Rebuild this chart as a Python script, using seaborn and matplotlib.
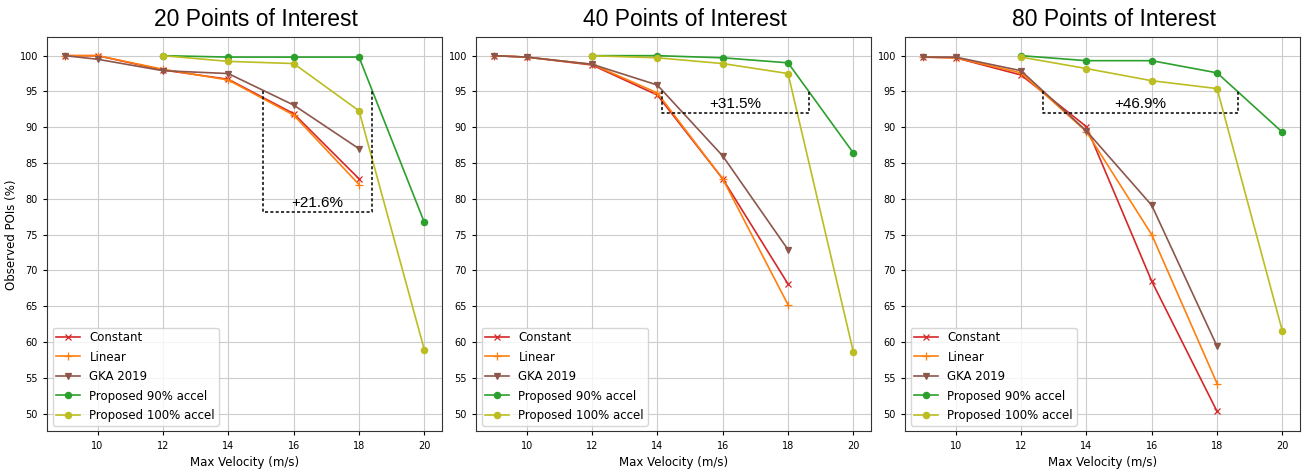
import numpy as np
import pandas as pd
import seaborn as sns
import matplotlib.pyplot as plt

# velocities (m/s)
vel_base = [9, 10, 12, 14, 16, 18]
vel_prop = [12, 14, 16, 18, 20]

panel_titles = ["20 Points of Interest", "40 Points of Interest", "80 Points of Interest"]
methods = ["Constant", "Linear", "GKA 2019", "Proposed 90% accel", "Proposed 100% accel"]

# observed POIs (%) per panel
constant = [
    [100.0, 100.0, 98.0, 96.7, 91.9, 82.8],
    [100.0, 99.8, 98.7, 94.5, 82.8, 68.1],
    [99.8, 99.7, 97.3, 90.1, 68.5, 50.3],
]
linear = [
    [100.0, 100.0, 98.1, 96.6, 91.7, 82.0],
    [100.0, 99.8, 98.8, 94.8, 82.8, 65.2],
    [99.8, 99.7, 97.6, 89.4, 75.0, 54.2],
]
gka = [
    [100.0, 99.5, 97.9, 97.5, 93.1, 87.0],
    [100.0, 99.8, 98.8, 95.9, 86.0, 72.9],
    [99.8, 99.8, 97.9, 89.5, 79.1, 59.4],
]
prop90 = [
    [100.0, 99.8, 99.8, 99.8, 76.7],
    [100.0, 100.0, 99.7, 99.0, 86.4],
    [100.0, 99.3, 99.3, 97.6, 89.3],
]
prop100 = [
    [100.0, 99.2, 98.9, 92.3, 58.9],
    [100.0, 99.7, 98.9, 97.5, 58.6],
    [99.8, 98.2, 96.5, 95.4, 61.5],
]
gain_labels = ["+21.6%", "+31.5%", "+46.9%"]
# bracket (left x, right x, bottom y)
brackets = [(15.05, 18.4, 78.1), (14.15, 18.63, 92.0), (12.67, 18.63, 92.0)]

colors = ["tab:red", "tab:orange", "tab:brown", "tab:green", "tab:olive"]
markers = ["x", "+", "v", "o", "o"]
msizes = [5, 6, 4.5, 4.5, 4.5]

plt.rcParams['font.family'] = ['DejaVu Sans']
fig, axes = plt.subplots(1, 3, figsize=(13.03, 4.69), dpi=100, sharey=True)
fig.subplots_adjust(left=0.036, right=0.998, top=0.921, bottom=0.08, wspace=0.085)

for i, ax in enumerate(axes):
    series = [constant[i], linear[i], gka[i], prop90[i], prop100[i]]
    xs = [vel_base, vel_base, vel_base, vel_prop, vel_prop]
    for name, x, y, c, m, ms in zip(methods, xs, series, colors, markers, msizes):
        sns.lineplot(x=x, y=y, ax=ax, color=c, marker=m, label=name,
                     linewidth=1.2, markersize=ms, markeredgecolor=c,
                     markeredgewidth=0.9)
    x0, x1, yb = brackets[i]
    ax.plot([x0, x0, x1, x1], [95, yb, yb, 95], color='black',
            linestyle=(0, (2, 1.5)), linewidth=1.1)
    ax.text((x0 + x1) / 2, yb + 0.3, gain_labels[i], ha='center', va='bottom',
            fontsize=11, family='Liberation Sans')
    ax.set_title(panel_titles[i], fontsize=16.5, family='Liberation Sans',
                 pad=8, x=0.528)
    ax.set_xlabel("Max Velocity (m/s)", fontsize=8.5)
    ax.set_xticks([10, 12, 14, 16, 18, 20])
    ax.set_yticks(np.arange(50, 101, 5))
    ax.tick_params(labelsize=7, length=3, width=0.8, labelleft=True)
    ax.grid(True, color='#cccccc', linewidth=0.8)
    ax.set_axisbelow(True)
    ax.legend(loc='lower left', fontsize=8.5, handlelength=2.0,
              borderpad=0.3, labelspacing=0.55)
    for s in ax.spines.values():
        s.set_color('#333333')

axes[0].set_ylabel("Observed POIs (%)", fontsize=8.5, labelpad=1)
axes[0].set_xlim(8.45, 20.55)
axes[0].set_ylim(47.5, 102.6)

plt.savefig('out.png', dpi=100)
